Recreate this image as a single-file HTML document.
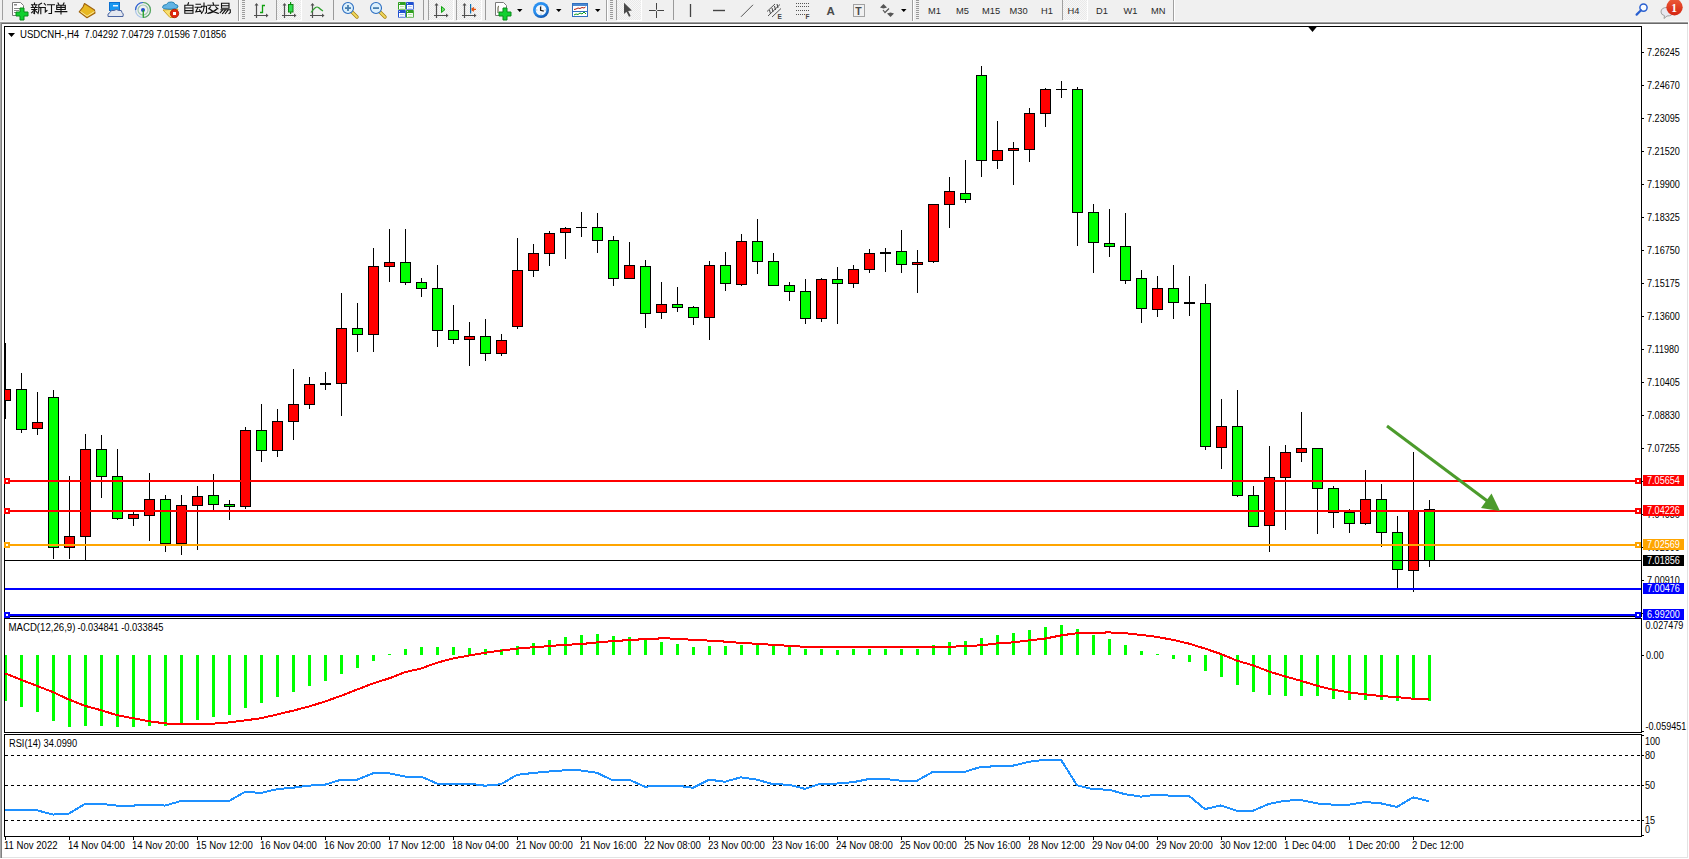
<!DOCTYPE html>
<html><head><meta charset="utf-8"><title>MT4</title>
<style>
html,body{margin:0;padding:0;width:1689px;height:859px;overflow:hidden;background:#fff;}
svg text{font-family:"Liberation Sans", sans-serif;}
</style></head><body>
<svg width="1689" height="859" viewBox="0 0 1689 859" shape-rendering="crispEdges" style="position:absolute;left:0;top:0">
<rect x="0" y="0" width="1689" height="21" fill="#f0f0f0" />
<rect x="0" y="21" width="1689" height="1" fill="#f7f7f7" />
<rect x="0" y="22" width="1688" height="1" fill="#a0a0a0" />
<rect x="0" y="23" width="1688" height="1" fill="#696969" />
<rect x="0" y="22" width="1" height="836" fill="#a8a8a8" />
<rect x="1" y="23" width="1" height="835" fill="#808080" />
<rect x="1687" y="24" width="1" height="834" fill="#e3e3e3" />
<rect x="2" y="857" width="1686" height="1" fill="#e3e3e3" />
<defs><clipPath id="cm"><rect x="5" y="27" width="1636" height="589"/></clipPath><clipPath id="cd"><rect x="5" y="619" width="1636" height="112"/></clipPath><clipPath id="cr"><rect x="5" y="735" width="1636" height="101"/></clipPath></defs>
<g clip-path="url(#cm)">
<rect x="5" y="343" width="1" height="76" fill="#000" />
<rect x="0" y="389" width="11" height="12" fill="#000" />
<rect x="1" y="390" width="9" height="10" fill="#ff0000" />
<rect x="21" y="373" width="1" height="60" fill="#000" />
<rect x="16" y="389" width="11" height="41" fill="#000" />
<rect x="17" y="390" width="9" height="39" fill="#00ff00" />
<rect x="37" y="392" width="1" height="43" fill="#000" />
<rect x="32" y="422" width="11" height="7" fill="#000" />
<rect x="33" y="423" width="9" height="5" fill="#ff0000" />
<rect x="53" y="390" width="1" height="169" fill="#000" />
<rect x="48" y="397" width="11" height="151" fill="#000" />
<rect x="49" y="398" width="9" height="149" fill="#00ff00" />
<rect x="69" y="476" width="1" height="83" fill="#000" />
<rect x="64" y="536" width="11" height="12" fill="#000" />
<rect x="65" y="537" width="9" height="10" fill="#ff0000" />
<rect x="85" y="434" width="1" height="126" fill="#000" />
<rect x="80" y="449" width="11" height="88" fill="#000" />
<rect x="81" y="450" width="9" height="86" fill="#ff0000" />
<rect x="101" y="435" width="1" height="63" fill="#000" />
<rect x="96" y="449" width="11" height="28" fill="#000" />
<rect x="97" y="450" width="9" height="26" fill="#00ff00" />
<rect x="117" y="449" width="1" height="71" fill="#000" />
<rect x="112" y="476" width="11" height="43" fill="#000" />
<rect x="113" y="477" width="9" height="41" fill="#00ff00" />
<rect x="133" y="512" width="1" height="14" fill="#000" />
<rect x="128" y="514" width="11" height="5" fill="#000" />
<rect x="129" y="515" width="9" height="3" fill="#ff0000" />
<rect x="149" y="473" width="1" height="68" fill="#000" />
<rect x="144" y="499" width="11" height="17" fill="#000" />
<rect x="145" y="500" width="9" height="15" fill="#ff0000" />
<rect x="165" y="495" width="1" height="57" fill="#000" />
<rect x="160" y="499" width="11" height="45" fill="#000" />
<rect x="161" y="500" width="9" height="43" fill="#00ff00" />
<rect x="181" y="495" width="1" height="60" fill="#000" />
<rect x="176" y="505" width="11" height="39" fill="#000" />
<rect x="177" y="506" width="9" height="37" fill="#ff0000" />
<rect x="197" y="486" width="1" height="64" fill="#000" />
<rect x="192" y="496" width="11" height="10" fill="#000" />
<rect x="193" y="497" width="9" height="8" fill="#ff0000" />
<rect x="213" y="474" width="1" height="36" fill="#000" />
<rect x="208" y="495" width="11" height="10" fill="#000" />
<rect x="209" y="496" width="9" height="8" fill="#00ff00" />
<rect x="229" y="500" width="1" height="20" fill="#000" />
<rect x="224" y="504" width="11" height="3" fill="#000" />
<rect x="225" y="505" width="9" height="1" fill="#00ff00" />
<rect x="245" y="427" width="1" height="82" fill="#000" />
<rect x="240" y="430" width="11" height="77" fill="#000" />
<rect x="241" y="431" width="9" height="75" fill="#ff0000" />
<rect x="261" y="404" width="1" height="58" fill="#000" />
<rect x="256" y="430" width="11" height="21" fill="#000" />
<rect x="257" y="431" width="9" height="19" fill="#00ff00" />
<rect x="277" y="409" width="1" height="48" fill="#000" />
<rect x="272" y="421" width="11" height="30" fill="#000" />
<rect x="273" y="422" width="9" height="28" fill="#ff0000" />
<rect x="293" y="369" width="1" height="71" fill="#000" />
<rect x="288" y="404" width="11" height="18" fill="#000" />
<rect x="289" y="405" width="9" height="16" fill="#ff0000" />
<rect x="309" y="377" width="1" height="32" fill="#000" />
<rect x="304" y="384" width="11" height="21" fill="#000" />
<rect x="305" y="385" width="9" height="19" fill="#ff0000" />
<rect x="325" y="372" width="1" height="18" fill="#000" />
<rect x="320" y="383" width="11" height="2" fill="#000" />
<rect x="341" y="293" width="1" height="123" fill="#000" />
<rect x="336" y="328" width="11" height="56" fill="#000" />
<rect x="337" y="329" width="9" height="54" fill="#ff0000" />
<rect x="357" y="303" width="1" height="49" fill="#000" />
<rect x="352" y="328" width="11" height="7" fill="#000" />
<rect x="353" y="329" width="9" height="5" fill="#00ff00" />
<rect x="373" y="248" width="1" height="104" fill="#000" />
<rect x="368" y="266" width="11" height="69" fill="#000" />
<rect x="369" y="267" width="9" height="67" fill="#ff0000" />
<rect x="389" y="229" width="1" height="53" fill="#000" />
<rect x="384" y="262" width="11" height="5" fill="#000" />
<rect x="385" y="263" width="9" height="3" fill="#ff0000" />
<rect x="405" y="229" width="1" height="56" fill="#000" />
<rect x="400" y="262" width="11" height="21" fill="#000" />
<rect x="401" y="263" width="9" height="19" fill="#00ff00" />
<rect x="421" y="278" width="1" height="19" fill="#000" />
<rect x="416" y="282" width="11" height="7" fill="#000" />
<rect x="417" y="283" width="9" height="5" fill="#00ff00" />
<rect x="437" y="265" width="1" height="82" fill="#000" />
<rect x="432" y="288" width="11" height="43" fill="#000" />
<rect x="433" y="289" width="9" height="41" fill="#00ff00" />
<rect x="453" y="305" width="1" height="39" fill="#000" />
<rect x="448" y="330" width="11" height="10" fill="#000" />
<rect x="449" y="331" width="9" height="8" fill="#00ff00" />
<rect x="469" y="322" width="1" height="44" fill="#000" />
<rect x="464" y="336" width="11" height="4" fill="#000" />
<rect x="465" y="337" width="9" height="2" fill="#ff0000" />
<rect x="485" y="319" width="1" height="42" fill="#000" />
<rect x="480" y="336" width="11" height="18" fill="#000" />
<rect x="481" y="337" width="9" height="16" fill="#00ff00" />
<rect x="501" y="334" width="1" height="22" fill="#000" />
<rect x="496" y="340" width="11" height="14" fill="#000" />
<rect x="497" y="341" width="9" height="12" fill="#ff0000" />
<rect x="517" y="238" width="1" height="91" fill="#000" />
<rect x="512" y="270" width="11" height="57" fill="#000" />
<rect x="513" y="271" width="9" height="55" fill="#ff0000" />
<rect x="533" y="244" width="1" height="33" fill="#000" />
<rect x="528" y="253" width="11" height="18" fill="#000" />
<rect x="529" y="254" width="9" height="16" fill="#ff0000" />
<rect x="549" y="231" width="1" height="35" fill="#000" />
<rect x="544" y="233" width="11" height="21" fill="#000" />
<rect x="545" y="234" width="9" height="19" fill="#ff0000" />
<rect x="565" y="227" width="1" height="32" fill="#000" />
<rect x="560" y="228" width="11" height="5" fill="#000" />
<rect x="561" y="229" width="9" height="3" fill="#ff0000" />
<rect x="581" y="212" width="1" height="25" fill="#000" />
<rect x="576" y="227" width="11" height="1" fill="#000" />
<rect x="597" y="213" width="1" height="40" fill="#000" />
<rect x="592" y="227" width="11" height="14" fill="#000" />
<rect x="593" y="228" width="9" height="12" fill="#00ff00" />
<rect x="613" y="236" width="1" height="50" fill="#000" />
<rect x="608" y="240" width="11" height="39" fill="#000" />
<rect x="609" y="241" width="9" height="37" fill="#00ff00" />
<rect x="629" y="242" width="1" height="37" fill="#000" />
<rect x="624" y="265" width="11" height="14" fill="#000" />
<rect x="625" y="266" width="9" height="12" fill="#ff0000" />
<rect x="645" y="260" width="1" height="68" fill="#000" />
<rect x="640" y="266" width="11" height="48" fill="#000" />
<rect x="641" y="267" width="9" height="46" fill="#00ff00" />
<rect x="661" y="282" width="1" height="37" fill="#000" />
<rect x="656" y="304" width="11" height="9" fill="#000" />
<rect x="657" y="305" width="9" height="7" fill="#ff0000" />
<rect x="677" y="287" width="1" height="25" fill="#000" />
<rect x="672" y="304" width="11" height="4" fill="#000" />
<rect x="673" y="305" width="9" height="2" fill="#00ff00" />
<rect x="693" y="306" width="1" height="19" fill="#000" />
<rect x="688" y="307" width="11" height="11" fill="#000" />
<rect x="689" y="308" width="9" height="9" fill="#00ff00" />
<rect x="709" y="261" width="1" height="79" fill="#000" />
<rect x="704" y="265" width="11" height="53" fill="#000" />
<rect x="705" y="266" width="9" height="51" fill="#ff0000" />
<rect x="725" y="252" width="1" height="39" fill="#000" />
<rect x="720" y="265" width="11" height="19" fill="#000" />
<rect x="721" y="266" width="9" height="17" fill="#00ff00" />
<rect x="741" y="234" width="1" height="52" fill="#000" />
<rect x="736" y="241" width="11" height="44" fill="#000" />
<rect x="737" y="242" width="9" height="42" fill="#ff0000" />
<rect x="757" y="219" width="1" height="55" fill="#000" />
<rect x="752" y="241" width="11" height="21" fill="#000" />
<rect x="753" y="242" width="9" height="19" fill="#00ff00" />
<rect x="773" y="253" width="1" height="33" fill="#000" />
<rect x="768" y="261" width="11" height="25" fill="#000" />
<rect x="769" y="262" width="9" height="23" fill="#00ff00" />
<rect x="789" y="282" width="1" height="19" fill="#000" />
<rect x="784" y="285" width="11" height="7" fill="#000" />
<rect x="785" y="286" width="9" height="5" fill="#00ff00" />
<rect x="805" y="279" width="1" height="45" fill="#000" />
<rect x="800" y="291" width="11" height="28" fill="#000" />
<rect x="801" y="292" width="9" height="26" fill="#00ff00" />
<rect x="821" y="278" width="1" height="44" fill="#000" />
<rect x="816" y="279" width="11" height="40" fill="#000" />
<rect x="817" y="280" width="9" height="38" fill="#ff0000" />
<rect x="837" y="267" width="1" height="57" fill="#000" />
<rect x="832" y="279" width="11" height="5" fill="#000" />
<rect x="833" y="280" width="9" height="3" fill="#00ff00" />
<rect x="853" y="265" width="1" height="23" fill="#000" />
<rect x="848" y="269" width="11" height="15" fill="#000" />
<rect x="849" y="270" width="9" height="13" fill="#ff0000" />
<rect x="869" y="249" width="1" height="24" fill="#000" />
<rect x="864" y="253" width="11" height="17" fill="#000" />
<rect x="865" y="254" width="9" height="15" fill="#ff0000" />
<rect x="885" y="248" width="1" height="24" fill="#000" />
<rect x="880" y="252" width="11" height="2" fill="#000" />
<rect x="901" y="230" width="1" height="43" fill="#000" />
<rect x="896" y="251" width="11" height="14" fill="#000" />
<rect x="897" y="252" width="9" height="12" fill="#00ff00" />
<rect x="917" y="250" width="1" height="43" fill="#000" />
<rect x="912" y="262" width="11" height="3" fill="#000" />
<rect x="913" y="263" width="9" height="1" fill="#ff0000" />
<rect x="933" y="204" width="1" height="59" fill="#000" />
<rect x="928" y="204" width="11" height="58" fill="#000" />
<rect x="929" y="205" width="9" height="56" fill="#ff0000" />
<rect x="949" y="177" width="1" height="51" fill="#000" />
<rect x="944" y="191" width="11" height="14" fill="#000" />
<rect x="945" y="192" width="9" height="12" fill="#ff0000" />
<rect x="965" y="160" width="1" height="43" fill="#000" />
<rect x="960" y="193" width="11" height="7" fill="#000" />
<rect x="961" y="194" width="9" height="5" fill="#00ff00" />
<rect x="981" y="66" width="1" height="111" fill="#000" />
<rect x="976" y="75" width="11" height="86" fill="#000" />
<rect x="977" y="76" width="9" height="84" fill="#00ff00" />
<rect x="997" y="121" width="1" height="48" fill="#000" />
<rect x="992" y="150" width="11" height="11" fill="#000" />
<rect x="993" y="151" width="9" height="9" fill="#ff0000" />
<rect x="1013" y="142" width="1" height="43" fill="#000" />
<rect x="1008" y="148" width="11" height="3" fill="#000" />
<rect x="1009" y="149" width="9" height="1" fill="#ff0000" />
<rect x="1029" y="108" width="1" height="54" fill="#000" />
<rect x="1024" y="113" width="11" height="37" fill="#000" />
<rect x="1025" y="114" width="9" height="35" fill="#ff0000" />
<rect x="1045" y="88" width="1" height="39" fill="#000" />
<rect x="1040" y="89" width="11" height="25" fill="#000" />
<rect x="1041" y="90" width="9" height="23" fill="#ff0000" />
<rect x="1061" y="81" width="1" height="17" fill="#000" />
<rect x="1056" y="89" width="11" height="1" fill="#000" />
<rect x="1077" y="87" width="1" height="159" fill="#000" />
<rect x="1072" y="89" width="11" height="124" fill="#000" />
<rect x="1073" y="90" width="9" height="122" fill="#00ff00" />
<rect x="1093" y="204" width="1" height="69" fill="#000" />
<rect x="1088" y="212" width="11" height="31" fill="#000" />
<rect x="1089" y="213" width="9" height="29" fill="#00ff00" />
<rect x="1109" y="209" width="1" height="48" fill="#000" />
<rect x="1104" y="243" width="11" height="4" fill="#000" />
<rect x="1105" y="244" width="9" height="2" fill="#00ff00" />
<rect x="1125" y="213" width="1" height="71" fill="#000" />
<rect x="1120" y="246" width="11" height="35" fill="#000" />
<rect x="1121" y="247" width="9" height="33" fill="#00ff00" />
<rect x="1141" y="270" width="1" height="53" fill="#000" />
<rect x="1136" y="278" width="11" height="31" fill="#000" />
<rect x="1137" y="279" width="9" height="29" fill="#00ff00" />
<rect x="1157" y="276" width="1" height="41" fill="#000" />
<rect x="1152" y="288" width="11" height="22" fill="#000" />
<rect x="1153" y="289" width="9" height="20" fill="#ff0000" />
<rect x="1173" y="265" width="1" height="54" fill="#000" />
<rect x="1168" y="288" width="11" height="15" fill="#000" />
<rect x="1169" y="289" width="9" height="13" fill="#00ff00" />
<rect x="1189" y="276" width="1" height="40" fill="#000" />
<rect x="1184" y="302" width="11" height="2" fill="#000" />
<rect x="1205" y="284" width="1" height="166" fill="#000" />
<rect x="1200" y="303" width="11" height="144" fill="#000" />
<rect x="1201" y="304" width="9" height="142" fill="#00ff00" />
<rect x="1221" y="399" width="1" height="70" fill="#000" />
<rect x="1216" y="426" width="11" height="22" fill="#000" />
<rect x="1217" y="427" width="9" height="20" fill="#ff0000" />
<rect x="1237" y="390" width="1" height="107" fill="#000" />
<rect x="1232" y="426" width="11" height="70" fill="#000" />
<rect x="1233" y="427" width="9" height="68" fill="#00ff00" />
<rect x="1253" y="486" width="1" height="41" fill="#000" />
<rect x="1248" y="495" width="11" height="32" fill="#000" />
<rect x="1249" y="496" width="9" height="30" fill="#00ff00" />
<rect x="1269" y="446" width="1" height="106" fill="#000" />
<rect x="1264" y="477" width="11" height="49" fill="#000" />
<rect x="1265" y="478" width="9" height="47" fill="#ff0000" />
<rect x="1285" y="445" width="1" height="85" fill="#000" />
<rect x="1280" y="452" width="11" height="26" fill="#000" />
<rect x="1281" y="453" width="9" height="24" fill="#ff0000" />
<rect x="1301" y="412" width="1" height="50" fill="#000" />
<rect x="1296" y="448" width="11" height="5" fill="#000" />
<rect x="1297" y="449" width="9" height="3" fill="#ff0000" />
<rect x="1317" y="448" width="1" height="86" fill="#000" />
<rect x="1312" y="448" width="11" height="41" fill="#000" />
<rect x="1313" y="449" width="9" height="39" fill="#00ff00" />
<rect x="1333" y="486" width="1" height="42" fill="#000" />
<rect x="1328" y="488" width="11" height="25" fill="#000" />
<rect x="1329" y="489" width="9" height="23" fill="#00ff00" />
<rect x="1349" y="509" width="1" height="24" fill="#000" />
<rect x="1344" y="512" width="11" height="12" fill="#000" />
<rect x="1345" y="513" width="9" height="10" fill="#00ff00" />
<rect x="1365" y="470" width="1" height="55" fill="#000" />
<rect x="1360" y="499" width="11" height="25" fill="#000" />
<rect x="1361" y="500" width="9" height="23" fill="#ff0000" />
<rect x="1381" y="484" width="1" height="63" fill="#000" />
<rect x="1376" y="499" width="11" height="34" fill="#000" />
<rect x="1377" y="500" width="9" height="32" fill="#00ff00" />
<rect x="1397" y="516" width="1" height="73" fill="#000" />
<rect x="1392" y="532" width="11" height="38" fill="#000" />
<rect x="1393" y="533" width="9" height="36" fill="#00ff00" />
<rect x="1413" y="452" width="1" height="140" fill="#000" />
<rect x="1408" y="511" width="11" height="60" fill="#000" />
<rect x="1409" y="512" width="9" height="58" fill="#ff0000" />
<rect x="1429" y="500" width="1" height="67" fill="#000" />
<rect x="1424" y="509" width="11" height="52" fill="#000" />
<rect x="1425" y="510" width="9" height="50" fill="#00ff00" />
<rect x="5" y="480" width="1636" height="2" fill="#ff0000" />
<rect x="5" y="510" width="1636" height="2" fill="#ff0000" />
<rect x="5" y="544" width="1636" height="2" fill="#ffa500" />
<rect x="5" y="560" width="1636" height="1" fill="#000" />
<rect x="5" y="588" width="1636" height="2" fill="#0000ff" />
<rect x="5" y="614" width="1636" height="2" fill="#0000ff" />
</g>
<rect x="4" y="26" width="1638" height="1" fill="#000" />
<rect x="4" y="616" width="1638" height="1" fill="#000" />
<rect x="4" y="26" width="1" height="591" fill="#000" />
<rect x="1641" y="26" width="1" height="591" fill="#000" />
<rect x="4" y="478" width="6" height="6" fill="#ff0000" />
<rect x="6" y="480" width="2" height="2" fill="#fff" />
<rect x="1635" y="478" width="6" height="6" fill="#ff0000" />
<rect x="1637" y="480" width="2" height="2" fill="#fff" />
<rect x="4" y="508" width="6" height="6" fill="#ff0000" />
<rect x="6" y="510" width="2" height="2" fill="#fff" />
<rect x="1635" y="508" width="6" height="6" fill="#ff0000" />
<rect x="1637" y="510" width="2" height="2" fill="#fff" />
<rect x="4" y="542" width="6" height="6" fill="#ffa500" />
<rect x="6" y="544" width="2" height="2" fill="#fff" />
<rect x="1635" y="542" width="6" height="6" fill="#ffa500" />
<rect x="1637" y="544" width="2" height="2" fill="#fff" />
<rect x="4" y="612" width="6" height="6" fill="#0000ff" />
<rect x="6" y="614" width="2" height="2" fill="#fff" />
<rect x="1635" y="612" width="6" height="6" fill="#0000ff" />
<rect x="1637" y="614" width="2" height="2" fill="#fff" />
<polygon points="1307.5,26 1317.5,26 1312.5,32" fill="#000" shape-rendering="auto"/>
<g shape-rendering="auto"><line x1="1387" y1="426" x2="1490" y2="503" stroke="#4c9b2c" stroke-width="3"/><polygon points="1500,511 1491.5,493.5 1481,508" fill="#4c9b2c"/></g>
<rect x="1642" y="52" width="2" height="1" fill="#000" />
<text transform="translate(1647,56) scale(0.91,1)" font-size="10" fill="#000" text-anchor="start" >7.26245</text>
<rect x="1642" y="85" width="2" height="1" fill="#000" />
<text transform="translate(1647,89) scale(0.91,1)" font-size="10" fill="#000" text-anchor="start" >7.24670</text>
<rect x="1642" y="118" width="2" height="1" fill="#000" />
<text transform="translate(1647,122) scale(0.91,1)" font-size="10" fill="#000" text-anchor="start" >7.23095</text>
<rect x="1642" y="151" width="2" height="1" fill="#000" />
<text transform="translate(1647,155) scale(0.91,1)" font-size="10" fill="#000" text-anchor="start" >7.21520</text>
<rect x="1642" y="184" width="2" height="1" fill="#000" />
<text transform="translate(1647,188) scale(0.91,1)" font-size="10" fill="#000" text-anchor="start" >7.19900</text>
<rect x="1642" y="217" width="2" height="1" fill="#000" />
<text transform="translate(1647,221) scale(0.91,1)" font-size="10" fill="#000" text-anchor="start" >7.18325</text>
<rect x="1642" y="250" width="2" height="1" fill="#000" />
<text transform="translate(1647,254) scale(0.91,1)" font-size="10" fill="#000" text-anchor="start" >7.16750</text>
<rect x="1642" y="283" width="2" height="1" fill="#000" />
<text transform="translate(1647,287) scale(0.91,1)" font-size="10" fill="#000" text-anchor="start" >7.15175</text>
<rect x="1642" y="316" width="2" height="1" fill="#000" />
<text transform="translate(1647,320) scale(0.91,1)" font-size="10" fill="#000" text-anchor="start" >7.13600</text>
<rect x="1642" y="349" width="2" height="1" fill="#000" />
<text transform="translate(1647,353) scale(0.91,1)" font-size="10" fill="#000" text-anchor="start" >7.11980</text>
<rect x="1642" y="382" width="2" height="1" fill="#000" />
<text transform="translate(1647,386) scale(0.91,1)" font-size="10" fill="#000" text-anchor="start" >7.10405</text>
<rect x="1642" y="415" width="2" height="1" fill="#000" />
<text transform="translate(1647,419) scale(0.91,1)" font-size="10" fill="#000" text-anchor="start" >7.08830</text>
<rect x="1642" y="448" width="2" height="1" fill="#000" />
<text transform="translate(1647,452) scale(0.91,1)" font-size="10" fill="#000" text-anchor="start" >7.07255</text>
<rect x="1642" y="481" width="2" height="1" fill="#000" />
<text transform="translate(1647,485) scale(0.91,1)" font-size="10" fill="#000" text-anchor="start" >7.05680</text>
<rect x="1642" y="514" width="2" height="1" fill="#000" />
<text transform="translate(1647,518) scale(0.91,1)" font-size="10" fill="#000" text-anchor="start" >7.04086</text>
<rect x="1642" y="547" width="2" height="1" fill="#000" />
<text transform="translate(1647,551) scale(0.91,1)" font-size="10" fill="#000" text-anchor="start" >7.02500</text>
<rect x="1642" y="580" width="2" height="1" fill="#000" />
<text transform="translate(1647,584) scale(0.91,1)" font-size="10" fill="#000" text-anchor="start" >7.00910</text>
<rect x="1642" y="613" width="2" height="1" fill="#000" />
<text transform="translate(1647,617) scale(0.91,1)" font-size="10" fill="#000" text-anchor="start" >6.99335</text>
<rect x="1643" y="475" width="41" height="11" fill="#ff0000" />
<text transform="translate(1647,484) scale(0.91,1)" font-size="10" fill="#fff" text-anchor="start" >7.05654</text>
<rect x="1643" y="505" width="41" height="11" fill="#ff0000" />
<text transform="translate(1647,514) scale(0.91,1)" font-size="10" fill="#fff" text-anchor="start" >7.04226</text>
<rect x="1643" y="539" width="41" height="11" fill="#ffa500" />
<text transform="translate(1647,548) scale(0.91,1)" font-size="10" fill="#fff" text-anchor="start" >7.02569</text>
<rect x="1643" y="555" width="41" height="11" fill="#000" />
<text transform="translate(1647,564) scale(0.91,1)" font-size="10" fill="#fff" text-anchor="start" >7.01856</text>
<rect x="1643" y="583" width="41" height="11" fill="#0000ff" />
<text transform="translate(1647,592) scale(0.91,1)" font-size="10" fill="#fff" text-anchor="start" >7.00476</text>
<rect x="1643" y="609" width="41" height="11" fill="#0000ff" />
<text transform="translate(1647,618) scale(0.91,1)" font-size="10" fill="#fff" text-anchor="start" >6.99200</text>
<rect x="4" y="618" width="1638" height="1" fill="#000" />
<rect x="4" y="732" width="1638" height="1" fill="#000" />
<rect x="4" y="618" width="1" height="115" fill="#000" />
<rect x="1641" y="618" width="1" height="115" fill="#000" />
<g clip-path="url(#cd)">
<rect x="4" y="655" width="3" height="46" fill="#00ff00" />
<rect x="20" y="655" width="3" height="52" fill="#00ff00" />
<rect x="36" y="655" width="3" height="57" fill="#00ff00" />
<rect x="52" y="655" width="3" height="66" fill="#00ff00" />
<rect x="68" y="655" width="3" height="72" fill="#00ff00" />
<rect x="84" y="655" width="3" height="71" fill="#00ff00" />
<rect x="100" y="655" width="3" height="71" fill="#00ff00" />
<rect x="116" y="655" width="3" height="72" fill="#00ff00" />
<rect x="132" y="655" width="3" height="72" fill="#00ff00" />
<rect x="148" y="655" width="3" height="71" fill="#00ff00" />
<rect x="164" y="655" width="3" height="71" fill="#00ff00" />
<rect x="180" y="655" width="3" height="69" fill="#00ff00" />
<rect x="196" y="655" width="3" height="65" fill="#00ff00" />
<rect x="212" y="655" width="3" height="62" fill="#00ff00" />
<rect x="228" y="655" width="3" height="60" fill="#00ff00" />
<rect x="244" y="655" width="3" height="53" fill="#00ff00" />
<rect x="260" y="655" width="3" height="48" fill="#00ff00" />
<rect x="276" y="655" width="3" height="42" fill="#00ff00" />
<rect x="292" y="655" width="3" height="37" fill="#00ff00" />
<rect x="308" y="655" width="3" height="31" fill="#00ff00" />
<rect x="324" y="655" width="3" height="26" fill="#00ff00" />
<rect x="340" y="655" width="3" height="19" fill="#00ff00" />
<rect x="356" y="655" width="3" height="13" fill="#00ff00" />
<rect x="372" y="655" width="3" height="6" fill="#00ff00" />
<rect x="388" y="654" width="3" height="1" fill="#00ff00" />
<rect x="404" y="649" width="3" height="6" fill="#00ff00" />
<rect x="420" y="647" width="3" height="8" fill="#00ff00" />
<rect x="436" y="647" width="3" height="8" fill="#00ff00" />
<rect x="452" y="647" width="3" height="8" fill="#00ff00" />
<rect x="468" y="648" width="3" height="7" fill="#00ff00" />
<rect x="484" y="649" width="3" height="6" fill="#00ff00" />
<rect x="500" y="649" width="3" height="6" fill="#00ff00" />
<rect x="516" y="646" width="3" height="9" fill="#00ff00" />
<rect x="532" y="643" width="3" height="12" fill="#00ff00" />
<rect x="548" y="640" width="3" height="15" fill="#00ff00" />
<rect x="564" y="637" width="3" height="18" fill="#00ff00" />
<rect x="580" y="635" width="3" height="20" fill="#00ff00" />
<rect x="596" y="634" width="3" height="21" fill="#00ff00" />
<rect x="612" y="636" width="3" height="19" fill="#00ff00" />
<rect x="628" y="637" width="3" height="18" fill="#00ff00" />
<rect x="644" y="640" width="3" height="15" fill="#00ff00" />
<rect x="660" y="642" width="3" height="13" fill="#00ff00" />
<rect x="676" y="644" width="3" height="11" fill="#00ff00" />
<rect x="692" y="647" width="3" height="8" fill="#00ff00" />
<rect x="708" y="646" width="3" height="9" fill="#00ff00" />
<rect x="724" y="646" width="3" height="9" fill="#00ff00" />
<rect x="740" y="645" width="3" height="10" fill="#00ff00" />
<rect x="756" y="644" width="3" height="11" fill="#00ff00" />
<rect x="772" y="645" width="3" height="10" fill="#00ff00" />
<rect x="788" y="646" width="3" height="9" fill="#00ff00" />
<rect x="804" y="649" width="3" height="6" fill="#00ff00" />
<rect x="820" y="649" width="3" height="6" fill="#00ff00" />
<rect x="836" y="650" width="3" height="5" fill="#00ff00" />
<rect x="852" y="649" width="3" height="6" fill="#00ff00" />
<rect x="868" y="649" width="3" height="6" fill="#00ff00" />
<rect x="884" y="649" width="3" height="6" fill="#00ff00" />
<rect x="900" y="649" width="3" height="6" fill="#00ff00" />
<rect x="916" y="649" width="3" height="6" fill="#00ff00" />
<rect x="932" y="645" width="3" height="10" fill="#00ff00" />
<rect x="948" y="642" width="3" height="13" fill="#00ff00" />
<rect x="964" y="641" width="3" height="14" fill="#00ff00" />
<rect x="980" y="638" width="3" height="17" fill="#00ff00" />
<rect x="996" y="635" width="3" height="20" fill="#00ff00" />
<rect x="1012" y="633" width="3" height="22" fill="#00ff00" />
<rect x="1028" y="630" width="3" height="25" fill="#00ff00" />
<rect x="1044" y="627" width="3" height="28" fill="#00ff00" />
<rect x="1060" y="625" width="3" height="30" fill="#00ff00" />
<rect x="1076" y="629" width="3" height="26" fill="#00ff00" />
<rect x="1092" y="635" width="3" height="20" fill="#00ff00" />
<rect x="1108" y="639" width="3" height="16" fill="#00ff00" />
<rect x="1124" y="645" width="3" height="10" fill="#00ff00" />
<rect x="1140" y="651" width="3" height="4" fill="#00ff00" />
<rect x="1156" y="654" width="3" height="1" fill="#00ff00" />
<rect x="1172" y="655" width="3" height="4" fill="#00ff00" />
<rect x="1188" y="655" width="3" height="7" fill="#00ff00" />
<rect x="1204" y="655" width="3" height="16" fill="#00ff00" />
<rect x="1220" y="655" width="3" height="22" fill="#00ff00" />
<rect x="1236" y="655" width="3" height="30" fill="#00ff00" />
<rect x="1252" y="655" width="3" height="37" fill="#00ff00" />
<rect x="1268" y="655" width="3" height="40" fill="#00ff00" />
<rect x="1284" y="655" width="3" height="41" fill="#00ff00" />
<rect x="1300" y="655" width="3" height="41" fill="#00ff00" />
<rect x="1316" y="655" width="3" height="41" fill="#00ff00" />
<rect x="1332" y="655" width="3" height="44" fill="#00ff00" />
<rect x="1348" y="655" width="3" height="45" fill="#00ff00" />
<rect x="1364" y="655" width="3" height="45" fill="#00ff00" />
<rect x="1380" y="655" width="3" height="45" fill="#00ff00" />
<rect x="1396" y="655" width="3" height="46" fill="#00ff00" />
<rect x="1412" y="655" width="3" height="44" fill="#00ff00" />
<rect x="1428" y="655" width="3" height="46" fill="#00ff00" />
<polyline points="5,673.4 21,679.7 37,685.9 53,692.1 69,699.6 85,705.8 101,710.2 117,715.2 133,718.2 149,721.2 165,723.4 181,724.4 197,724.4 213,723.7 229,722.4 245,720.4 261,718.2 277,714.5 293,710.7 309,706.5 325,701.5 341,695.8 357,689.6 373,683.4 389,678.4 405,672.2 421,668.5 437,662.7 453,658.5 469,655.5 485,652.8 501,650.6 517,648.6 533,647.3 549,646.1 565,644.8 581,644.1 597,642.4 613,641.1 629,640.1 645,639.1 661,638.4 677,638.6 693,639.9 709,640.6 725,641.6 741,642.9 757,643.8 773,644.8 789,645.8 805,646.8 821,646.8 837,647.3 853,647.3 869,647.3 885,647.3 901,647.3 917,647.3 933,647.3 949,646.8 965,646.1 981,645.3 997,643.4 1013,642.4 1029,640.4 1045,638.6 1061,635.4 1077,633.2 1093,632.9 1109,632.4 1125,633.2 1141,634.9 1157,636.9 1173,639.9 1189,643.6 1205,648.6 1221,654 1237,660.7 1253,665.3 1269,671.5 1285,676.4 1301,680.8 1317,685.7 1333,689.7 1349,692.4 1365,694.3 1381,696 1397,697.1 1413,698.7 1429,698.7" fill="none" stroke="#ff0000" stroke-width="2" shape-rendering="crispEdges"/>
</g>
<rect x="1642" y="731" width="2" height="1" fill="#000" />
<text transform="translate(1645.5,629) scale(0.91,1)" font-size="10" fill="#000" text-anchor="start" >0.027479</text>
<rect x="1642" y="655" width="2" height="1" fill="#000" />
<text transform="translate(1646,659) scale(0.91,1)" font-size="10" fill="#000" text-anchor="start" >0.00</text>
<text transform="translate(1645.5,730) scale(0.91,1)" font-size="10" fill="#000" text-anchor="start" >-0.059451</text>
<rect x="4" y="734" width="1638" height="1" fill="#000" />
<rect x="4" y="836" width="1638" height="1" fill="#000" />
<rect x="4" y="734" width="1" height="103" fill="#000" />
<rect x="1641" y="734" width="1" height="103" fill="#000" />
<g clip-path="url(#cr)">
<line x1="5" y1="755.5" x2="1641" y2="755.5" stroke="#000" stroke-width="1" stroke-dasharray="3,3"/>
<line x1="5" y1="785.5" x2="1641" y2="785.5" stroke="#000" stroke-width="1" stroke-dasharray="3,3"/>
<line x1="5" y1="820.5" x2="1641" y2="820.5" stroke="#000" stroke-width="1" stroke-dasharray="3,3"/>
<polyline points="5,809.6 21,810.3 37,810.3 53,814.6 69,813.5 85,803.9 101,803.9 117,805.6 133,805.6 149,804.6 165,805.6 181,801 197,801 213,801 229,801 245,791.9 261,792.9 277,789.2 293,787.7 309,785.6 325,784.7 341,779.7 357,779.7 373,773.3 389,773.3 405,776.5 421,776.5 437,783.5 453,783.5 469,783.5 485,785.7 501,784.2 517,774.8 533,773 549,771.5 565,770.3 581,770.5 597,772.8 613,780.5 629,779.7 645,786.7 661,785.7 677,785.7 693,787.7 709,779.7 725,781.7 741,777.3 757,779.7 773,784.2 789,784.7 805,788.9 821,783.5 837,783.5 853,782.2 869,779 885,779 901,780.7 917,780.7 933,771.8 949,771.8 965,771.8 981,766.8 997,766.3 1013,765.6 1029,761.8 1045,759.8 1061,759.8 1077,785.2 1093,789.2 1109,789.7 1125,794.2 1141,796.6 1157,794.7 1173,795.9 1189,795.9 1205,809.1 1221,805.4 1237,810.8 1253,810.7 1269,803.9 1285,800.7 1301,800.1 1317,803.4 1333,804.7 1349,804.7 1365,802 1381,803.4 1397,806.9 1413,797.4 1429,801.2" fill="none" stroke="#1e90ff" stroke-width="2" shape-rendering="crispEdges"/>
</g>
<text transform="translate(1645,745) scale(0.91,1)" font-size="10" fill="#000" text-anchor="start" >100</text>
<rect x="1642" y="735" width="2" height="1" fill="#000" />
<text transform="translate(1645,759) scale(0.91,1)" font-size="10" fill="#000" text-anchor="start" >80</text>
<rect x="1642" y="755" width="2" height="1" fill="#000" />
<text transform="translate(1645,789) scale(0.91,1)" font-size="10" fill="#000" text-anchor="start" >50</text>
<rect x="1642" y="785" width="2" height="1" fill="#000" />
<text transform="translate(1645,824) scale(0.91,1)" font-size="10" fill="#000" text-anchor="start" >15</text>
<rect x="1642" y="820" width="2" height="1" fill="#000" />
<text transform="translate(1645,833) scale(0.91,1)" font-size="10" fill="#000" text-anchor="start" >0</text>
<rect x="1642" y="835" width="2" height="1" fill="#000" />
<rect x="5" y="837" width="1" height="3" fill="#000" />
<text transform="translate(4,848.6) scale(0.94,1)" font-size="10.2" fill="#000" text-anchor="start" >11 Nov 2022</text>
<rect x="69" y="837" width="1" height="3" fill="#000" />
<text transform="translate(68,848.6) scale(0.94,1)" font-size="10.2" fill="#000" text-anchor="start" >14 Nov 04:00</text>
<rect x="133" y="837" width="1" height="3" fill="#000" />
<text transform="translate(132,848.6) scale(0.94,1)" font-size="10.2" fill="#000" text-anchor="start" >14 Nov 20:00</text>
<rect x="197" y="837" width="1" height="3" fill="#000" />
<text transform="translate(196,848.6) scale(0.94,1)" font-size="10.2" fill="#000" text-anchor="start" >15 Nov 12:00</text>
<rect x="261" y="837" width="1" height="3" fill="#000" />
<text transform="translate(260,848.6) scale(0.94,1)" font-size="10.2" fill="#000" text-anchor="start" >16 Nov 04:00</text>
<rect x="325" y="837" width="1" height="3" fill="#000" />
<text transform="translate(324,848.6) scale(0.94,1)" font-size="10.2" fill="#000" text-anchor="start" >16 Nov 20:00</text>
<rect x="389" y="837" width="1" height="3" fill="#000" />
<text transform="translate(388,848.6) scale(0.94,1)" font-size="10.2" fill="#000" text-anchor="start" >17 Nov 12:00</text>
<rect x="453" y="837" width="1" height="3" fill="#000" />
<text transform="translate(452,848.6) scale(0.94,1)" font-size="10.2" fill="#000" text-anchor="start" >18 Nov 04:00</text>
<rect x="517" y="837" width="1" height="3" fill="#000" />
<text transform="translate(516,848.6) scale(0.94,1)" font-size="10.2" fill="#000" text-anchor="start" >21 Nov 00:00</text>
<rect x="581" y="837" width="1" height="3" fill="#000" />
<text transform="translate(580,848.6) scale(0.94,1)" font-size="10.2" fill="#000" text-anchor="start" >21 Nov 16:00</text>
<rect x="645" y="837" width="1" height="3" fill="#000" />
<text transform="translate(644,848.6) scale(0.94,1)" font-size="10.2" fill="#000" text-anchor="start" >22 Nov 08:00</text>
<rect x="709" y="837" width="1" height="3" fill="#000" />
<text transform="translate(708,848.6) scale(0.94,1)" font-size="10.2" fill="#000" text-anchor="start" >23 Nov 00:00</text>
<rect x="773" y="837" width="1" height="3" fill="#000" />
<text transform="translate(772,848.6) scale(0.94,1)" font-size="10.2" fill="#000" text-anchor="start" >23 Nov 16:00</text>
<rect x="837" y="837" width="1" height="3" fill="#000" />
<text transform="translate(836,848.6) scale(0.94,1)" font-size="10.2" fill="#000" text-anchor="start" >24 Nov 08:00</text>
<rect x="901" y="837" width="1" height="3" fill="#000" />
<text transform="translate(900,848.6) scale(0.94,1)" font-size="10.2" fill="#000" text-anchor="start" >25 Nov 00:00</text>
<rect x="965" y="837" width="1" height="3" fill="#000" />
<text transform="translate(964,848.6) scale(0.94,1)" font-size="10.2" fill="#000" text-anchor="start" >25 Nov 16:00</text>
<rect x="1029" y="837" width="1" height="3" fill="#000" />
<text transform="translate(1028,848.6) scale(0.94,1)" font-size="10.2" fill="#000" text-anchor="start" >28 Nov 12:00</text>
<rect x="1093" y="837" width="1" height="3" fill="#000" />
<text transform="translate(1092,848.6) scale(0.94,1)" font-size="10.2" fill="#000" text-anchor="start" >29 Nov 04:00</text>
<rect x="1157" y="837" width="1" height="3" fill="#000" />
<text transform="translate(1156,848.6) scale(0.94,1)" font-size="10.2" fill="#000" text-anchor="start" >29 Nov 20:00</text>
<rect x="1221" y="837" width="1" height="3" fill="#000" />
<text transform="translate(1220,848.6) scale(0.94,1)" font-size="10.2" fill="#000" text-anchor="start" >30 Nov 12:00</text>
<rect x="1285" y="837" width="1" height="3" fill="#000" />
<text transform="translate(1284,848.6) scale(0.94,1)" font-size="10.2" fill="#000" text-anchor="start" >1 Dec 04:00</text>
<rect x="1349" y="837" width="1" height="3" fill="#000" />
<text transform="translate(1348,848.6) scale(0.94,1)" font-size="10.2" fill="#000" text-anchor="start" >1 Dec 20:00</text>
<rect x="1413" y="837" width="1" height="3" fill="#000" />
<text transform="translate(1412,848.6) scale(0.94,1)" font-size="10.2" fill="#000" text-anchor="start" >2 Dec 12:00</text>
<polygon points="8,33 15,33 11.5,37" fill="#000" shape-rendering="auto"/>
<text x="20.0" y="38" font-size="10" fill="#000" textLength="59.2" lengthAdjust="spacingAndGlyphs">USDCNH-,H4</text>
<text x="84.6" y="38" font-size="10" fill="#000" textLength="33.7" lengthAdjust="spacingAndGlyphs">7.04292</text>
<text x="120.8" y="38" font-size="10" fill="#000" textLength="33.0" lengthAdjust="spacingAndGlyphs">7.04729</text>
<text x="156.4" y="38" font-size="10" fill="#000" textLength="33.6" lengthAdjust="spacingAndGlyphs">7.01596</text>
<text x="192.6" y="38" font-size="10" fill="#000" textLength="33.6" lengthAdjust="spacingAndGlyphs">7.01856</text>
<text x="8.5" y="631" font-size="10" fill="#000" textLength="66.9" lengthAdjust="spacingAndGlyphs">MACD(12,26,9)</text>
<text x="77.4" y="631" font-size="10" fill="#000" textLength="41.3" lengthAdjust="spacingAndGlyphs">-0.034841</text>
<text x="121.2" y="631" font-size="10" fill="#000" textLength="42.2" lengthAdjust="spacingAndGlyphs">-0.033845</text>
<text x="9.0" y="747" font-size="10" fill="#000" textLength="31.9" lengthAdjust="spacingAndGlyphs">RSI(14)</text>
<text x="43.6" y="747" font-size="10" fill="#000" textLength="33.5" lengthAdjust="spacingAndGlyphs">34.0990</text>
<rect x="238" y="0" width="1" height="21" fill="#a0a0a0"/>
<rect x="239" y="0" width="1" height="21" fill="#ffffff"/>
<rect x="606" y="0" width="1" height="21" fill="#a0a0a0"/>
<rect x="607" y="0" width="1" height="21" fill="#ffffff"/>
<rect x="912" y="0" width="1" height="21" fill="#a0a0a0"/>
<rect x="913" y="0" width="1" height="21" fill="#ffffff"/>
<rect x="1173" y="0" width="1" height="21" fill="#a0a0a0"/>
<rect x="1174" y="0" width="1" height="21" fill="#ffffff"/>
<rect x="2" y="0" width="1" height="20" fill="#a0a0a0"/>
<rect x="333" y="0" width="1" height="20" fill="#9a9a9a"/>
<rect x="423" y="0" width="1" height="20" fill="#9a9a9a"/>
<rect x="485" y="0" width="1" height="20" fill="#9a9a9a"/>
<rect x="673" y="0" width="1" height="20" fill="#9a9a9a"/>
<rect x="242" y="0" width="3" height="1" fill="#9a9a9a"/>
<rect x="242" y="2" width="3" height="1" fill="#9a9a9a"/>
<rect x="242" y="4" width="3" height="1" fill="#9a9a9a"/>
<rect x="242" y="6" width="3" height="1" fill="#9a9a9a"/>
<rect x="242" y="8" width="3" height="1" fill="#9a9a9a"/>
<rect x="242" y="10" width="3" height="1" fill="#9a9a9a"/>
<rect x="242" y="12" width="3" height="1" fill="#9a9a9a"/>
<rect x="242" y="14" width="3" height="1" fill="#9a9a9a"/>
<rect x="242" y="16" width="3" height="1" fill="#9a9a9a"/>
<rect x="242" y="18" width="3" height="1" fill="#9a9a9a"/>
<rect x="610" y="0" width="3" height="1" fill="#9a9a9a"/>
<rect x="610" y="2" width="3" height="1" fill="#9a9a9a"/>
<rect x="610" y="4" width="3" height="1" fill="#9a9a9a"/>
<rect x="610" y="6" width="3" height="1" fill="#9a9a9a"/>
<rect x="610" y="8" width="3" height="1" fill="#9a9a9a"/>
<rect x="610" y="10" width="3" height="1" fill="#9a9a9a"/>
<rect x="610" y="12" width="3" height="1" fill="#9a9a9a"/>
<rect x="610" y="14" width="3" height="1" fill="#9a9a9a"/>
<rect x="610" y="16" width="3" height="1" fill="#9a9a9a"/>
<rect x="610" y="18" width="3" height="1" fill="#9a9a9a"/>
<rect x="916" y="0" width="3" height="1" fill="#9a9a9a"/>
<rect x="916" y="2" width="3" height="1" fill="#9a9a9a"/>
<rect x="916" y="4" width="3" height="1" fill="#9a9a9a"/>
<rect x="916" y="6" width="3" height="1" fill="#9a9a9a"/>
<rect x="916" y="8" width="3" height="1" fill="#9a9a9a"/>
<rect x="916" y="10" width="3" height="1" fill="#9a9a9a"/>
<rect x="916" y="12" width="3" height="1" fill="#9a9a9a"/>
<rect x="916" y="14" width="3" height="1" fill="#9a9a9a"/>
<rect x="916" y="16" width="3" height="1" fill="#9a9a9a"/>
<rect x="916" y="18" width="3" height="1" fill="#9a9a9a"/>
<defs><pattern id="chk" width="2" height="2" patternUnits="userSpaceOnUse"><rect width="2" height="2" fill="#f7f7f7"/><rect width="1" height="1" fill="#e9e9e9"/><rect x="1" y="1" width="1" height="1" fill="#e9e9e9"/></pattern></defs>
<rect x="276" y="0" width="25" height="20" fill="url(#chk)"/>
<rect x="276" y="0" width="1" height="20" fill="#a0a0a0"/>
<rect x="277" y="20" width="24" height="1" fill="#ffffff"/>
<rect x="301" y="0" width="1" height="21" fill="#ffffff"/>
<rect x="428" y="0" width="25" height="20" fill="url(#chk)"/>
<rect x="428" y="0" width="1" height="20" fill="#a0a0a0"/>
<rect x="429" y="20" width="24" height="1" fill="#ffffff"/>
<rect x="453" y="0" width="1" height="21" fill="#ffffff"/>
<rect x="456" y="0" width="25" height="20" fill="url(#chk)"/>
<rect x="456" y="0" width="1" height="20" fill="#a0a0a0"/>
<rect x="457" y="20" width="24" height="1" fill="#ffffff"/>
<rect x="481" y="0" width="1" height="21" fill="#ffffff"/>
<rect x="616" y="0" width="25" height="20" fill="url(#chk)"/>
<rect x="616" y="0" width="1" height="20" fill="#a0a0a0"/>
<rect x="617" y="20" width="24" height="1" fill="#ffffff"/>
<rect x="641" y="0" width="1" height="21" fill="#ffffff"/>
<rect x="1062" y="0" width="25" height="20" fill="url(#chk)"/>
<rect x="1062" y="0" width="1" height="20" fill="#a0a0a0"/>
<rect x="1063" y="20" width="24" height="1" fill="#ffffff"/>
<rect x="1087" y="0" width="1" height="21" fill="#ffffff"/>
<g shape-rendering="auto">
<path d="M12.5,2.5 h8 l3,3 v10 h-11 z" fill="#fff" stroke="#7a7a7a" stroke-width="1" stroke-linejoin="round"/>
<rect x="14" y="4" width="3" height="1.5" fill="#8a8a8a"/><rect x="14" y="8" width="6" height="1" fill="#8a8a8a"/><rect x="14" y="10" width="5" height="1" fill="#8a8a8a"/><rect x="14" y="12" width="3" height="1" fill="#8a8a8a"/>
<path d="M20,8 h4 v4 h4 v4 h-4 v4 h-4 v-4 h-4 v-4 h4 z" fill="#10d030" stroke="#0a8a1a" stroke-width="1"/>
<path d="M84.5,3.5 L94.5,10 L95,13 L87,17.8 L79.2,11.8 L83,7 Z" fill="#e8b822" stroke="#a0640e" stroke-width="1.1" stroke-linejoin="round"/>
<path d="M80.5,11.5 L87,16.2 L94.5,11.5" fill="none" stroke="#f8e8a0" stroke-width="1"/>
<rect x="109.5" y="2.5" width="10" height="8" fill="#1a98f0" stroke="#0a70d0" stroke-width="1"/>
<rect x="113" y="5" width="5" height="1.5" fill="#e8f4ff"/>
<path d="M108,16.5 q-1,-3 2,-4 q1,-3 4,-2 q2,-2 5,0 q3,-1 3,2 q2,1 1,4 z" fill="#e4e8f0" stroke="#4a64a0" stroke-width="1"/>
<circle cx="143" cy="10" r="7.5" fill="none" stroke="#a8c4e8" stroke-width="1.2"/>
<circle cx="143" cy="10" r="5" fill="none" stroke="#a0c8b0" stroke-width="1.2"/>
<path d="M143,2.5 a7.5,7.5 0 0 1 0,15" fill="none" stroke="#58a858" stroke-width="1.2"/>
<path d="M135.5,10 a7.5,7.5 0 0 1 7.5,-7.5" fill="none" stroke="#3060d0" stroke-width="1.2"/>
<circle cx="143" cy="10" r="2" fill="#2050d0"/>
<rect x="142.6" y="10" width="1.3" height="7.5" fill="#20a020"/>
<path d="M163,10 L178,9 L174,17.5 L170,17.5 Z" fill="#f8e070" stroke="#d0a020" stroke-width="1"/>
<path d="M162.5,7.5 q0,-3 4,-3 q1,-3 5,-2.5 q3,0 3.5,2.5 q3.5,0 3,2.5 q-1,2 -7,2.2 q-8,0 -8.5,-1.7 z" fill="#62b4e4" stroke="#2a84b4" stroke-width="1"/>
<circle cx="174.5" cy="13.5" r="4.2" fill="#e02810" stroke="#b01800" stroke-width="0.8"/>
<rect x="173" y="12" width="3" height="3" fill="#fff"/>
<path d="M256.5,4 V18 M254,15.5 H267" stroke="#505050" stroke-width="1.2" fill="none"/>
<path d="M254.5,5.5 L256.5,3 L258.5,5.5 Z M266,13.5 L268.5,15.5 L266,17.5 Z" fill="#505050"/>
<path d="M260,12.5 H262.5 V5.5 H265" stroke="#10a010" stroke-width="1.3" fill="none"/>
<path d="M284.5,4 V18 M282,15.5 H295" stroke="#505050" stroke-width="1.2" fill="none"/>
<path d="M282.5,5.5 L284.5,3 L286.5,5.5 Z M294,13.5 L296.5,15.5 L294,17.5 Z" fill="#505050"/>
<rect x="290" y="2" width="1.2" height="12" fill="#109010"/>
<rect x="288.5" y="4.5" width="4.5" height="7.5" fill="#30e050" stroke="#108010" stroke-width="1"/>
<path d="M312.5,4 V18 M310,15.5 H323" stroke="#505050" stroke-width="1.2" fill="none"/>
<path d="M310.5,5.5 L312.5,3 L314.5,5.5 Z M322,13.5 L324.5,15.5 L322,17.5 Z" fill="#505050"/>
<path d="M311,12.5 Q313.5,9 315.5,7.5 Q317,6.5 318.5,7.5 Q320.5,9.5 323,11" stroke="#30a030" stroke-width="1.2" fill="none"/>
<path d="M351,11 L357,17" stroke="#a88010" stroke-width="3.4" stroke-linecap="round"/>
<path d="M351,11 L357,17" stroke="#f0d860" stroke-width="1.8" stroke-linecap="round"/>
<circle cx="348" cy="8" r="5.5" fill="#dcf0fc" stroke="#2a6cc0" stroke-width="1.1"/>
<rect x="345" y="7.2" width="6" height="1.8" fill="#4a80b0"/>
<rect x="347.1" y="5" width="1.8" height="6" fill="#4a80b0"/>
<path d="M379,11 L385,17" stroke="#a88010" stroke-width="3.4" stroke-linecap="round"/>
<path d="M379,11 L385,17" stroke="#f0d860" stroke-width="1.8" stroke-linecap="round"/>
<circle cx="376" cy="8" r="5.5" fill="#dcf0fc" stroke="#2a6cc0" stroke-width="1.1"/>
<rect x="373" y="7.2" width="6" height="1.8" fill="#4a80b0"/>
<rect x="398" y="2" width="7.8" height="7.8" fill="#30a020" rx="0.8"/>
<rect x="399" y="5" width="5.9" height="4.2" fill="#fff"/>
<rect x="400" y="6.2" width="3.8" height="0.9" fill="#a8d890"/>
<rect x="400" y="8.2" width="3.8" height="0.8" fill="#c8e8b8"/>
<rect x="399" y="3" width="1" height="1" fill="#dde"/>
<rect x="406" y="2" width="7.8" height="7.8" fill="#2050d0" rx="0.8"/>
<rect x="407" y="5" width="5.9" height="4.2" fill="#fff"/>
<rect x="408" y="6.2" width="3.8" height="0.9" fill="#90b0f0"/>
<rect x="408" y="8.2" width="3.8" height="0.8" fill="#b8c8f8"/>
<rect x="407" y="3" width="1" height="1" fill="#dde"/>
<rect x="398" y="10" width="7.8" height="7.8" fill="#2050d0" rx="0.8"/>
<rect x="399" y="13" width="5.9" height="4.2" fill="#fff"/>
<rect x="400" y="14.2" width="3.8" height="0.9" fill="#90b0f0"/>
<rect x="400" y="16.2" width="3.8" height="0.8" fill="#b8c8f8"/>
<rect x="399" y="11" width="1" height="1" fill="#dde"/>
<rect x="406" y="10" width="7.8" height="7.8" fill="#30a020" rx="0.8"/>
<rect x="407" y="13" width="5.9" height="4.2" fill="#fff"/>
<rect x="408" y="14.2" width="3.8" height="0.9" fill="#a8d890"/>
<rect x="408" y="16.2" width="3.8" height="0.8" fill="#c8e8b8"/>
<rect x="407" y="11" width="1" height="1" fill="#dde"/>
<path d="M436.5,4 V18 M434,15.5 H447" stroke="#505050" stroke-width="1.2" fill="none"/>
<path d="M434.5,5.5 L436.5,3 L438.5,5.5 Z M446,13.5 L448.5,15.5 L446,17.5 Z" fill="#505050"/>
<path d="M441.5,6.5 L445,9.5 L441.5,12.5 Z" fill="#70e070" stroke="#10a010" stroke-width="1"/>
<path d="M464.5,4 V18 M462,15.5 H475" stroke="#505050" stroke-width="1.2" fill="none"/>
<path d="M462.5,5.5 L464.5,3 L466.5,5.5 Z M474,13.5 L476.5,15.5 L474,17.5 Z" fill="#505050"/>
<rect x="470" y="4" width="1.2" height="9.5" fill="#1070b0"/>
<path d="M471.5,9.4 H476 M471.5,9.4 L474,7.5 M471.5,9.4 L474,11.3" stroke="#e05010" stroke-width="1.4" fill="none"/>
<path d="M495.5,2.5 h8 l3,3 v10 h-11 z" fill="#fff" stroke="#7a7a7a" stroke-width="1" stroke-linejoin="round"/>
<path d="M499,6 q-1,0 -1,2 v5" stroke="#404020" stroke-width="0.9" fill="none"/>
<path d="M503,8 h4 v4 h4 v4 h-4 v4 h-4 v-4 h-4 v-4 h4 z" fill="#10d030" stroke="#0a8a1a" stroke-width="1"/>
<path d="M517,9 h5.5 l-2.75,3 z" fill="#000"/>
<path d="M556,9 h5.5 l-2.75,3 z" fill="#000"/>
<path d="M595,9 h5.5 l-2.75,3 z" fill="#000"/>
<path d="M901,9 h5.5 l-2.75,3 z" fill="#000"/>
<defs><radialGradient id="clk" cx="0.4" cy="0.35" r="0.7"><stop offset="0.6" stop-color="#2a90f0"/><stop offset="1" stop-color="#0848a0"/></radialGradient></defs>
<circle cx="541" cy="10" r="8" fill="url(#clk)"/>
<circle cx="541" cy="10" r="5.3" fill="#f4f8fc"/>
<path d="M541,5.3 V6.3 M541,13.7 V14.7 M536.3,10 H537.3 M544.7,10 H545.7" stroke="#7090b0" stroke-width="0.8"/>
<path d="M540.6,6.5 V10.3 L543.8,11.2" stroke="#202020" stroke-width="1.3" fill="none"/>
<rect x="572.5" y="3.5" width="15" height="13" fill="#fff" stroke="#3070c0" stroke-width="1"/>
<rect x="573" y="4" width="14" height="2" fill="#4a88d0"/>
<rect x="573" y="11" width="14" height="1" fill="#3070c0"/>
<path d="M574,9.5 l2,-0.5 l2,-1 l2,0.5 l2,-1 l2,0.5 l1.5,-1" stroke="#b02010" stroke-width="1" fill="none"/>
<path d="M574,15 l2,-1 l2,0.5 l2,-1.5 l2,1 l2,-2 l2,2" stroke="#10a020" stroke-width="1" fill="none"/>
<path d="M624,2.8 V14 L626.5,11.7 L629,16.8 L630.6,16.1 L628.2,11.1 L631.9,10.6 Z" fill="#4a4a4a"/>
<path d="M656.5,3 V9.7 M656.5,11.2 V18 M649,10.5 H655.8 M657.2,10.5 H664" stroke="#444" stroke-width="1" fill="none"/>
<path d="M690.5,4 V17" stroke="#444" stroke-width="1.3"/>
<path d="M713,10.5 H725" stroke="#444" stroke-width="1.4"/>
<path d="M741,16.8 L753,4.8" stroke="#555" stroke-width="1"/>
<path d="M767,11.5 L775,4 M768,16 L780,4.5 M772,17 L781,8.5" stroke="#555" stroke-width="1" fill="none"/>
<path d="M769.5,10 l1,4 M772,8 l1,4 M774.5,6 l1,4 M777,4 l1,4" stroke="#444" stroke-width="1" fill="none"/>
<text x="777.5" y="19" font-size="6.5" font-weight="bold" fill="#444">E</text>
<path d="M796,3.5 H810" stroke="#555" stroke-width="1" stroke-dasharray="1,1"/>
<path d="M796,6.5 H810" stroke="#555" stroke-width="1" stroke-dasharray="1,1"/>
<path d="M796,10.5 H810" stroke="#555" stroke-width="1" stroke-dasharray="1,1"/>
<path d="M796,14.5 H805" stroke="#555" stroke-width="1" stroke-dasharray="1,1"/>
<text x="805.5" y="19" font-size="6.5" font-weight="bold" fill="#444">F</text>
<text x="826.5" y="15" font-size="11.5" font-weight="bold" fill="#4a4a4a">A</text>
<rect x="853.5" y="4.5" width="11" height="12" fill="none" stroke="#555" stroke-width="1" stroke-dasharray="1,1"/>
<text x="855.3" y="15" font-size="10.5" font-weight="bold" fill="#4a4a4a">T</text>
<path d="M880,7.5 L883.5,4 L887,7.5 L883.5,8.5 Z" fill="#555"/>
<path d="M883,10 L885,12.5 L889,8.5" stroke="#555" stroke-width="1.2" fill="none"/>
<path d="M887,13.5 L890.5,12.5 L894,13.5 L890.5,17 Z" fill="#555"/>
<circle cx="1643.5" cy="7.6" r="3.6" fill="#fafcff" stroke="#2a60d0" stroke-width="1.5"/>
<path d="M1641,10.2 L1636.6,14.6" stroke="#2a60d0" stroke-width="2.2" stroke-linecap="round"/>
<path d="M1661,12 q0,-4.5 6,-4.5 q6,0 6,4.5 q0,4 -6,4 l-3,2.5 l0.5,-2.8 q-3.5,-1 -3.5,-3.7 z" fill="#e8e8f0" stroke="#a0a0a0" stroke-width="1"/>
<defs><linearGradient id="bdg" x1="0" y1="0" x2="0" y2="1"><stop offset="0" stop-color="#ec5a38"/><stop offset="1" stop-color="#d42410"/></linearGradient></defs>
<circle cx="1674.5" cy="7.2" r="8.2" fill="url(#bdg)"/>
<text x="1674.2" y="12" font-size="11.5" font-weight="bold" fill="#fff" text-anchor="middle" style="font-family:Liberation Serif,serif">1</text>
</g>
<text x="928" y="14" font-size="9.3" fill="#2a2a2a">M1</text>
<text x="956" y="14" font-size="9.3" fill="#2a2a2a">M5</text>
<text x="982" y="14" font-size="9.3" fill="#2a2a2a">M15</text>
<text x="1009.5" y="14" font-size="9.3" fill="#2a2a2a">M30</text>
<text x="1041" y="14" font-size="9.3" fill="#2a2a2a">H1</text>
<text x="1067.5" y="14" font-size="9.3" fill="#2a2a2a">H4</text>
<text x="1096" y="14" font-size="9.3" fill="#2a2a2a">D1</text>
<text x="1123.5" y="14" font-size="9.3" fill="#2a2a2a">W1</text>
<text x="1151" y="14" font-size="9.3" fill="#2a2a2a">MN</text>
<g shape-rendering="auto"><path d="M34.5,3 V4.3 M31.5,4.8 H37 M32.5,5.8 L33,6.8 M36,5.8 L35.5,6.8 M31.3,7.5 H37.2 M31.8,9.5 H36.8 M34.5,7.5 V13.5 L33.5,13 M33.5,10.8 L31.5,12.8 M35.5,10.8 L37,12.3 M41.5,3.3 L38.8,4.8 M38.8,4.8 V10.5 L38,13.5 M38.8,7.5 H42.5 M40.8,7.5 V13.8" stroke="#111" stroke-width="1.1" fill="none" stroke-linecap="square"/>
<path d="M44.3,3.5 L45.6,5 M43.5,7.5 H45.3 V12 L47,10.5 M47.5,4.7 H54.5 M51.5,4.7 V13.5 H49" stroke="#111" stroke-width="1.1" fill="none" stroke-linecap="square"/>
<path d="M58,3 L58.8,4.5 M64,3 L63.2,4.5 M56.7,5.3 H65.3 V9.5 H56.7 Z M56.7,7.4 H65.3 M61,5.3 V14 M55.2,11.6 H66.8" stroke="#111" stroke-width="1.1" fill="none" stroke-linecap="square"/>
<path d="M188.5,2.8 L187.8,4.8 M184.8,5.3 H193 V13.2 H184.8 Z M184.8,8 H193 M184.8,10.6 H193" stroke="#111" stroke-width="1.1" fill="none" stroke-linecap="square"/>
<path d="M196,4.3 H200.5 M195.2,7.3 H201.5 M198,7.3 L195.8,11.8 L200.8,11.2 M199.5,9.8 L201.2,12.2 M201.5,6.3 H206.5 V12.5 L205.3,13.2 M204,3 V7.5 Q203.8,11 201.5,13.5" stroke="#111" stroke-width="1.1" fill="none" stroke-linecap="square"/>
<path d="M213,2.8 L213.5,4.2 M207.8,5.3 H218.5 M210.5,6.8 L208.6,8.8 M215.8,6.8 L218,8.8 M209.6,9 Q213,12.5 218.3,13.4 M216.8,9 Q213.5,12.5 207.8,13.4" stroke="#111" stroke-width="1.1" fill="none" stroke-linecap="square"/>
<path d="M221.5,3.2 H229 V8.3 H221.5 Z M221.5,5.8 H229 M221,9.8 H230.3 V12.5 L229,13.5 M222.8,9.8 L220.2,12.6 M225.6,9.8 L222.5,13.6 M228.2,9.8 L225.3,13.6" stroke="#111" stroke-width="1.1" fill="none" stroke-linecap="square"/></g>
</svg>
</body></html>
